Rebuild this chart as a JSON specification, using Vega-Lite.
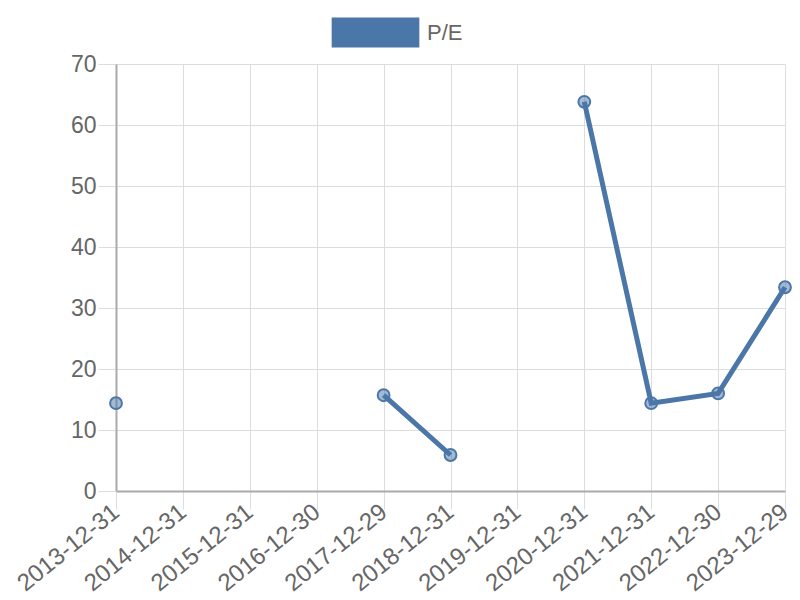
{
  "$schema": "https://vega.github.io/schema/vega-lite/v6.json",
  "autosize": {"type": "none"},
  "padding": {"left": 116, "top": 64, "right": 15, "bottom": 109},
  "width": 669,
  "height": 427,
  "background": "white",
  "config": {
    "font": "Liberation Sans",
    "view": {"stroke": null},
    "axis": {
      "labelColor": "#666666",
      "labelFont": "Liberation Sans",
      "labelFontSize": 23,
      "grid": true,
      "gridColor": "#dddddd",
      "gridWidth": 1,
      "tickColor": "#dddddd",
      "tickSize": 18,
      "domainColor": "#aaaaaa",
      "domainWidth": 2,
      "title": null
    }
  },
  "data": {
    "values": [
      {"date": "2013-12-31", "pe": 14.4},
      {"date": "2014-12-31", "pe": null},
      {"date": "2015-12-31", "pe": null},
      {"date": "2016-12-30", "pe": null},
      {"date": "2017-12-29", "pe": 15.7},
      {"date": "2018-12-31", "pe": 5.9},
      {"date": "2019-12-31", "pe": null},
      {"date": "2020-12-31", "pe": 63.8},
      {"date": "2021-12-31", "pe": 14.4},
      {"date": "2022-12-30", "pe": 16.0},
      {"date": "2023-12-29", "pe": 33.4}
    ]
  },
  "encoding": {
    "x": {
      "field": "date",
      "type": "ordinal",
      "sort": null,
      "scale": {"type": "point", "padding": 0},
      "axis": {"grid": true, "labelAngle": -39, "labelAlign": "right", "labelBaseline": "middle", "labelPadding": 0, "labelFontSize": 24}
    },
    "y": {
      "field": "pe",
      "type": "quantitative",
      "scale": {"domain": [0, 70], "nice": false},
      "axis": {"values": [0, 10, 20, 30, 40, 50, 60, 70], "labelPadding": 2}
    },
    "color": {
      "datum": "P/E",
      "type": "nominal",
      "scale": {"range": ["#4a76a8"]},
      "legend": {
        "orient": "none",
        "legendX": 230,
        "legendY": -61,
        "title": null,
        "symbolType": "M-1.5,-0.5H1.5V0.5H-1.5Z",
        "symbolSize": 3300,
        "labelFontSize": 22,
        "labelColor": "#666666",
        "labelFont": "Liberation Sans",
        "labelOffset": 22,
        "encode": {
          "symbols": {"update": {"fill": {"value": "#4a76a8"}, "stroke": {"value": "transparent"}, "opacity": {"value": 1}, "fillOpacity": {"value": 1}}}
        }
      }
    }
  },
  "layer": [
    {
      "mark": {"type": "line", "strokeWidth": 5, "invalid": "break-paths-show-domains"}
    },
    {
      "transform": [{"filter": "datum.pe != null"}],
      "mark": {"type": "point", "filled": false, "size": 140, "strokeWidth": 2, "fill": "#4a76a8", "fillOpacity": 0.5, "opacity": 1}
    }
  ]
}
